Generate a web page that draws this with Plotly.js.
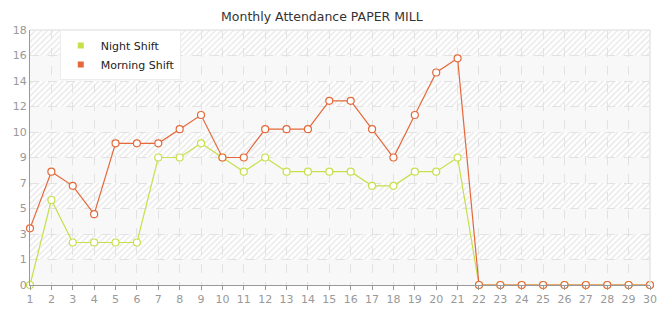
<!DOCTYPE html>
<html>
<head>
<meta charset="utf-8">
<script src="https://cdn.plot.ly/plotly-3.0.1.min.js"></script>
<style>
html,body{margin:0;padding:0;background:#fff;}
#chart{width:665px;height:320px;}
</style>
</head>
<body>
<div id="chart"></div>
<script>
var days = [1,2,3,4,5,6,7,8,9,10,11,12,13,14,15,16,17,18,19,20,21,22,23,24,25,26,27,28,29,30];
var nightShift = [0,6,3,3,3,3,9,9,10,9,8,9,8,8,8,8,7,7,8,8,9,0,0,0,0,0,0,0,0,0];
var morningShift = [4,8,7,5,10,10,10,11,12,9,9,11,11,11,13,13,11,9,12,15,16,0,0,0,0,0,0,0,0,0];
var yTickVals = [0,1.8,3.6,5.4,7.2,9,10.8,12.6,14.4,16.2,18];
var yTickText = ["0","1","3","5","7","9","10","12","14","16","18"];
var nightColor = "#c5e04a";
var morningColor = "#e5683a";

// background decoration: diagonal hatch, with alternating solid bands laid over it
function buildBackground() {
  var W = 620, H = 255;
  var s = '<svg xmlns="http://www.w3.org/2000/svg" width="'+W+'" height="'+H+'" viewBox="0 0 '+W+' '+H+'">';
  s += '<rect x="0" y="0" width="'+W+'" height="'+H+'" fill="#fefefe"/>';
  for (var k = -H; k < W + H; k += 6) {
    s += '<line x1="'+k+'" y1="'+H+'" x2="'+(k+H)+'" y2="0" stroke="#ececec" stroke-width="1.6"/>';
  }
  var bandH = H / 10;
  for (var i = 0; i < 10; i += 2) {
    var bandTop = H - (i + 1) * bandH;
    s += '<rect x="0" y="' + bandTop + '" width="' + W + '" height="' + bandH + '" fill="#f8f8f8"/>';
  }
  s += '</svg>';
  return 'data:image/svg+xml;base64,' + btoa(s);
}
var bgUri = buildBackground();

var markerBase = function(c){ return {symbol:'circle', size:7, color:'#ffffff', line:{color:c, width:1.2}}; };

var traces = [
  {x: days, y: nightShift, type:'scatter', mode:'lines+markers', name:'Night Shift',
   line:{color:nightColor, width:1.2}, marker: markerBase(nightColor), showlegend:false, cliponaxis:false},
  {x: days, y: morningShift, type:'scatter', mode:'lines+markers', name:'Morning Shift',
   line:{color:morningColor, width:1.2}, marker: markerBase(morningColor), showlegend:false, cliponaxis:false},
  {x:[null], y:[null], type:'scatter', mode:'markers', name:'Night Shift',
   marker:{symbol:'square', size:6, color:nightColor}},
  {x:[null], y:[null], type:'scatter', mode:'markers', name:'Morning Shift',
   marker:{symbol:'square', size:6, color:morningColor}}
];

var layout = {
  width:665, height:320,
  margin:{l:30, r:15, t:30, b:35, pad:0},
  paper_bgcolor:'#ffffff',
  plot_bgcolor:'rgba(0,0,0,0)',
  font:{family:'DejaVu Sans, Verdana, sans-serif', size:11, color:'#999999'},
  title:{text:'Monthly Attendance PAPER MILL', x:0.484, xanchor:'center', y:0.963, yanchor:'top',
         font:{family:'DejaVu Sans, Verdana, sans-serif', size:12.5, color:'#333333'}},
  xaxis:{range:[1,30], tickmode:'array', tickvals:days, ticktext:days.map(String),
         showgrid:true, gridcolor:'#e2e2e2', griddash:'dash', gridwidth:1,
         zeroline:false, showline:true, linecolor:'#999999', linewidth:1,
         ticks:'outside', ticklen:4, tickcolor:'#999999',
         tickfont:{size:11, color:'#999999'}, mirror:false, fixedrange:true},
  yaxis:{range:[0,18], tickmode:'array', tickvals:yTickVals, ticktext:yTickText,
         showgrid:true, gridcolor:'#e2e2e2', griddash:'dash', gridwidth:1,
         zeroline:false, showline:true, linecolor:'#999999', linewidth:1,
         ticks:'', tickfont:{size:11, color:'#999999'}, fixedrange:true},
  shapes:[
    {type:'line', xref:'paper', yref:'paper', x0:0, x1:1, y0:1, y1:1, line:{color:'#e6e6e6', width:1.5}},
    {type:'line', xref:'paper', yref:'paper', x0:1, x1:1, y0:0, y1:1, line:{color:'#e6e6e6', width:1.5}}
  ],
  images:[{source:bgUri, xref:'paper', yref:'paper', x:0, y:1, sizex:1, sizey:1,
           sizing:'stretch', xanchor:'left', yanchor:'top', layer:'below'}],
  legend:{x:0.048, y:1.0, xanchor:'left', yanchor:'top', bgcolor:'#ffffff',
          bordercolor:'#ededed', borderwidth:1, font:{size:11, color:'#222222'},
          itemwidth:30, tracegroupgap:0},
  showlegend:true
};

Plotly.newPlot('chart', traces, layout, {displayModeBar:false, staticPlot:true});
</script>
</body>
</html>
